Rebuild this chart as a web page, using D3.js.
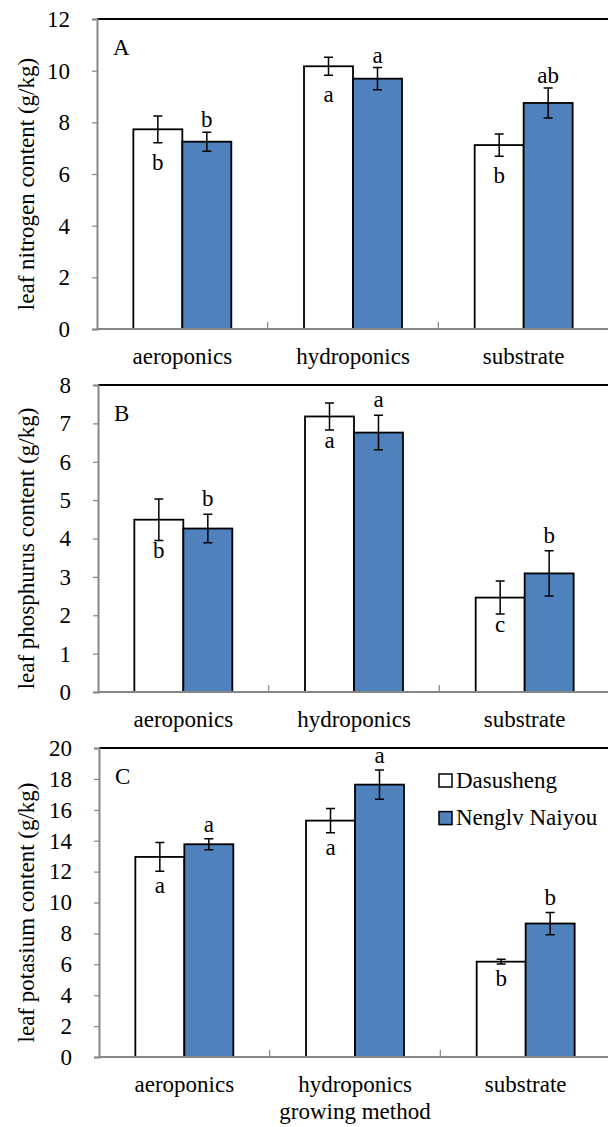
<!DOCTYPE html>
<html lang="en">
<head>
<meta charset="UTF-8">
<title>Leaf nutrient content</title>
<script src="https://d3js.org/d3.v7.min.js"></script>
<style>
  body { margin: 0; background: #fff; }
  svg text { font-family: "Liberation Serif", "DejaVu Serif", serif; fill: #000; }
</style>
</head>
<body>
<div id="chart"></div>
<script>
const methods = ["aeroponics", "hydroponics", "substrate"];
const cultivars = ["Dasusheng", "Nenglv Naiyou"];

// nitrogen (g/kg)
const nitrogenDas = [7.73, 10.17, 7.12];
const nitrogenDasErr = [0.52, 0.35, 0.43];
const nitrogenNen = [7.25, 9.69, 8.75];
const nitrogenNenErr = [0.37, 0.43, 0.58];
const nitrogenDasLetters = ["b", "a", "b"];
const nitrogenNenLetters = ["b", "a", "ab"];

// phosphorus (g/kg)
const phosphorusDas = [4.49, 7.18, 2.46];
const phosphorusDasErr = [0.54, 0.35, 0.43];
const phosphorusNen = [4.26, 6.76, 3.09];
const phosphorusNenErr = [0.37, 0.45, 0.59];
const phosphorusDasLetters = ["b", "a", "c"];
const phosphorusNenLetters = ["b", "a", "b"];

// potassium (g/kg)
const potassiumDas = [12.95, 15.30, 6.17];
const potassiumDasErr = [0.93, 0.78, 0.15];
const potassiumNen = [13.77, 17.63, 8.64];
const potassiumNenErr = [0.35, 0.94, 0.72];
const potassiumDasLetters = ["a", "a", "b"];
const potassiumNenLetters = ["a", "a", "b"];

const nitrogenTicks = [0, 2, 4, 6, 8, 10, 12];
const phosphorusTicks = [0, 1, 2, 3, 4, 5, 6, 7, 8];
const potassiumTicks = [0, 2, 4, 6, 8, 10, 12, 14, 16, 18, 20];

const w = 608, h = 1127;
const fills = ["#ffffff", "#4f81bd"];
const fs = 23;
const serif = "'Liberation Serif', 'DejaVu Serif', serif";

const svg = d3.select("#chart").append("svg")
    .attr("width", w).attr("height", h)
    .attr("font-family", serif);

const panels = [
  { tag: "A", title: "leaf nitrogen content (g/kg)", top: 19, bottom: 329, left: 97,
    ticks: nitrogenTicks, vals: [nitrogenDas, nitrogenNen], errs: [nitrogenDasErr, nitrogenNenErr],
    letters: [nitrogenDasLetters, nitrogenNenLetters], below: 27, above: 5 },
  { tag: "B", title: "leaf phosphurus content (g/kg)", top: 385, bottom: 692, left: 98,
    ticks: phosphorusTicks, vals: [phosphorusDas, phosphorusNen], errs: [phosphorusDasErr, phosphorusNenErr],
    letters: [phosphorusDasLetters, phosphorusNenLetters], below: 18, above: 8 },
  { tag: "C", title: "leaf potasium content (g/kg)", top: 748, bottom: 1057, left: 99,
    ticks: potassiumTicks, vals: [potassiumDas, potassiumNen], errs: [potassiumDasErr, potassiumNenErr],
    letters: [potassiumDasLetters, potassiumNenLetters], below: 22, above: 7, legend: true, xTitle: "growing method" }
];

panels.forEach(p => {
  const right = p.left + 512;
  const g = svg.append("g");

  const x = d3.scaleBand().domain(methods).range([p.left, right]).padding(0);
  const xs = d3.scaleBand().domain(cultivars)
      .range([x.bandwidth() * 0.213, x.bandwidth() * 0.787]).padding(0);
  const y = d3.scaleLinear().domain(d3.extent(p.ticks)).range([p.bottom, p.top]);

  // top frame line
  g.append("line")
    .attr("x1", p.left).attr("x2", w + 2)
    .attr("y1", p.top).attr("y2", p.top)
    .attr("stroke", "#000").attr("stroke-width", 2);

  // y axis
  const yAxis = g.append("g")
    .attr("transform", "translate(" + p.left + ",0)")
    .call(d3.axisLeft(y).tickValues(p.ticks).tickSize(5).tickPadding(22));
  yAxis.attr("font-family", serif).attr("font-size", fs);
  yAxis.select(".domain").attr("stroke", "#868686").attr("stroke-width", 2);
  yAxis.selectAll(".tick line").attr("stroke", "#868686").attr("stroke-width", 1.2);
  yAxis.selectAll("text").attr("fill", "#000");

  // y title
  g.append("text")
    .attr("transform", "translate(26," + ((p.top + p.bottom) / 2 + 10) + ") rotate(-90)")
    .attr("text-anchor", "middle").attr("dominant-baseline", "central")
    .attr("font-size", fs).text(p.title);

  // bars
  cultivars.forEach((c, si) => {
    const rows = methods.map((m, i) => ({ m, v: p.vals[si][i], e: p.errs[si][i], l: p.letters[si][i] }));
    const bg = g.append("g");
    bg.selectAll("rect").data(rows).enter().append("rect")
      .attr("x", d => x(d.m) + xs(c))
      .attr("y", d => y(d.v))
      .attr("width", xs.bandwidth())
      .attr("height", d => p.bottom - y(d.v))
      .attr("fill", fills[si]).attr("stroke", "#000").attr("stroke-width", 1.8);

    const cx = d => x(d.m) + xs(c) + xs.bandwidth() / 2;
    bg.selectAll("path.err").data(rows).enter().append("path")
      .attr("class", "err")
      .attr("d", d => {
        const hi = y(d.v + d.e), lo = y(d.v - d.e), xc = cx(d);
        return "M" + (xc - 4.5) + "," + hi + "H" + (xc + 4.5) +
               "M" + xc + "," + hi + "V" + lo +
               "M" + (xc - 4.5) + "," + lo + "H" + (xc + 4.5);
      })
      .attr("stroke", "#000").attr("stroke-width", 1.5).attr("fill", "none");

    bg.selectAll("text").data(rows).enter().append("text")
      .attr("x", cx)
      .attr("y", d => si === 0 ? y(d.v - d.e) + p.below : y(d.v + d.e) - p.above)
      .attr("text-anchor", "middle").attr("font-size", fs)
      .text(d => d.l);
  });

  // x axis line and category dividers
  g.append("line")
    .attr("x1", p.left).attr("x2", w + 2)
    .attr("y1", p.bottom).attr("y2", p.bottom)
    .attr("stroke", "#868686").attr("stroke-width", 2);
  g.selectAll("line.div").data(methods.slice(1)).enter().append("line")
    .attr("class", "div")
    .attr("x1", d => x(d)).attr("x2", d => x(d))
    .attr("y1", p.bottom).attr("y2", p.bottom - 7)
    .attr("stroke", "#868686").attr("stroke-width", 1.2);

  g.selectAll("text.cat").data(methods).enter().append("text")
    .attr("class", "cat")
    .attr("x", d => x(d) + x.bandwidth() / 2)
    .attr("y", p.bottom + 35)
    .attr("text-anchor", "middle").attr("font-size", fs)
    .text(d => d);

  g.append("text")
    .attr("x", p.left + 16).attr("y", p.top + 36)
    .attr("font-size", fs).text(p.tag);

  if (p.xTitle) {
    g.append("text")
      .attr("x", x("hydroponics") + x.bandwidth() / 2)
      .attr("y", p.bottom + 62)
      .attr("text-anchor", "middle").attr("font-size", fs)
      .text(p.xTitle);
  }

  if (p.legend) {
    const lg = g.append("g").attr("transform", "translate(439," + (p.top + 26) + ")");
    const items = lg.selectAll("g").data(cultivars).enter().append("g")
      .attr("transform", (d, i) => "translate(0," + (i * 37.6) + ")");
    items.append("rect")
      .attr("x", 0).attr("y", 0).attr("width", 13).attr("height", 13)
      .attr("fill", (d, i) => fills[i]).attr("stroke", "#000").attr("stroke-width", 1.5);
    items.append("text")
      .attr("x", 17).attr("y", 13.5)
      .attr("font-size", fs).text(d => d);
  }
});
</script>
</body>
</html>
